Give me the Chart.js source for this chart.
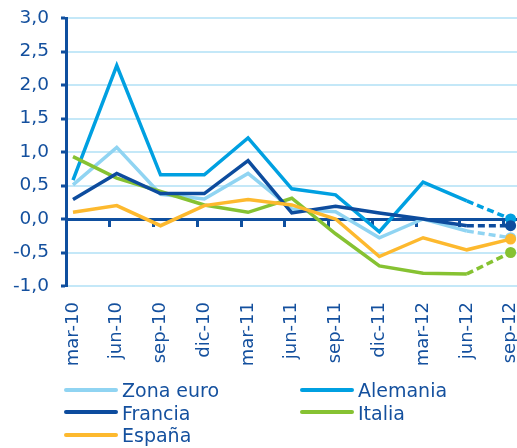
<!DOCTYPE html>
<html>
<head>
<meta charset="utf-8">
<script src="https://cdn.jsdelivr.net/npm/chart.js@4"></script>
<style>
  html, body { margin: 0; padding: 0; background: #fff; overflow: hidden; }
  #wrap { position: relative; width: 517px; height: 448px; overflow: hidden; }
  #legend { position: absolute; left: 0; top: 0; font-family: "DejaVu Sans"; font-size: 19px; color: #14509e; }
  .item { position: absolute; white-space: nowrap; line-height: 22px; }
  .swatch { display: inline-block; width: 54px; height: 4px; border-radius: 2px; vertical-align: middle; margin-right: 4px; position: relative; top: -2px; }
</style>
</head>
<body>
<div id="wrap">
  <canvas id="chart" width="545" height="448"></canvas>
  <div id="legend"></div>
</div>
<script>
var categories = ['mar-10', 'jun-10', 'sep-10', 'dic-10', 'mar-11', 'jun-11', 'sep-11', 'dic-11', 'mar-12', 'jun-12', 'sep-12'];
var zonaEuro = [0.51, 1.07, 0.37, 0.30, 0.68, 0.15, 0.11, -0.28, 0.00, -0.18, -0.28];
var alemania = [0.58, 2.29, 0.66, 0.66, 1.21, 0.45, 0.36, -0.19, 0.55, 0.27, 0.00];
var francia = [0.29, 0.68, 0.38, 0.38, 0.87, 0.09, 0.19, 0.09, 0.00, -0.10, -0.10];
var italia = [0.93, 0.61, 0.41, 0.21, 0.10, 0.31, -0.22, -0.70, -0.81, -0.82, -0.50];
var espana = [0.10, 0.20, -0.10, 0.20, 0.29, 0.21, 0.00, -0.56, -0.28, -0.46, -0.30];
var yTicks = [3, 2.5, 2, 1.5, 1, 0.5, 0, -0.5, -1];

var axisColor = '#0f4f9f';
var textColor = '#14509e';
var last = categories.length - 1;
var xMin = -0.16, xMax = 10.66;

// name, values, colour, dashed last segment, draw order (lower = on top)
var series = [
  ['Zona euro', zonaEuro, '#90d4f2', true, 4],
  ['Alemania', alemania, '#00a0e1', true, 3],
  ['Francia', francia, '#0d4c9e', true, 1],
  ['Italia', italia, '#86c232', true, 2],
  ['España', espana, '#fdb92e', false, 0]
];

var datasets = series.map(function (s) {
  return {
    label: s[0],
    data: s[1].map(function (v, i) { return { x: i, y: v }; }),
    borderColor: s[2],
    backgroundColor: s[2],
    pointBackgroundColor: s[2],
    borderWidth: 3.5,
    tension: 0,
    order: s[4],
    clip: false,
    pointRadius: function (c) { return c.dataIndex === last ? 5.5 : 0; },
    pointBorderWidth: 0,
    pointHoverRadius: 0,
    segment: {
      borderDash: function (c) { return (s[3] && c.p1DataIndex === last) ? [7, 4] : undefined; }
    }
  };
});

// keep labels from pushing the plot area inwards
function noPad(scale) {
  scale.paddingTop = 0; scale.paddingBottom = 0;
  scale.paddingLeft = 0; scale.paddingRight = 0;
}

var ctx = document.getElementById('chart');
var chart = new Chart(ctx, {
  type: 'line',
  data: { datasets: datasets },
  options: {
    responsive: false,
    animation: false,
    layout: { padding: { top: 18, left: 0, right: 0, bottom: 0 } },
    plugins: { legend: { display: false }, tooltip: { enabled: false } },
    scales: {
      x: {
        type: 'linear',
        min: xMin,
        max: xMax,
        afterBuildTicks: function (scale) {
          scale.ticks = categories.map(function (c, i) { return { value: i }; });
        },
        afterFit: function (scale) { scale.height = 162; noPad(scale); },
        grid: { display: false, drawTicks: false },
        border: { display: false },
        ticks: {
          autoSkip: false,
          maxRotation: 90,
          minRotation: 90,
          padding: 16,
          color: textColor,
          font: { family: 'DejaVu Sans', size: 18 },
          callback: function (value) { return categories[value]; }
        }
      },
      x2: {
        type: 'linear',
        position: { y: 0 },
        min: xMin,
        max: xMax,
        afterBuildTicks: function (scale) {
          var t = [];
          for (var k = 1; k <= categories.length; k++) t.push({ value: xMin + k });
          scale.ticks = t;
        },
        afterFit: noPad,
        grid: { drawOnChartArea: false, drawTicks: true, tickLength: 6, tickColor: axisColor, tickWidth: 3 },
        border: { display: true, color: axisColor, width: 3 },
        ticks: { display: false }
      },
      y: {
        min: -1,
        max: 3,
        afterBuildTicks: function (scale) {
          scale.ticks = yTicks.map(function (v) { return { value: v }; });
        },
        afterFit: function (scale) { scale.width = 66; noPad(scale); },
        grid: { color: '#c4e8f8', lineWidth: 2, tickColor: axisColor, tickWidth: 3, tickLength: 5 },
        border: { color: axisColor, width: 3 },
        ticks: {
          padding: 12,
          color: textColor,
          font: { family: 'DejaVu Sans', size: 18.5 },
          callback: function (value) { return value.toFixed(1).replace('.', ','); }
        }
      }
    }
  }
});

// legend in two columns under the chart
var legend = document.getElementById('legend');
series.forEach(function (s, i) {
  var col = i % 2, row = Math.floor(i / 2);
  var div = document.createElement('div');
  div.className = 'item';
  div.style.left = (col === 0 ? 64 : 300) + 'px';
  div.style.top = (379 + row * 22.5) + 'px';
  div.innerHTML = '<span class="swatch" style="background:' + s[2] + '"></span>' + s[0];
  legend.appendChild(div);
});
</script>
</body>
</html>
